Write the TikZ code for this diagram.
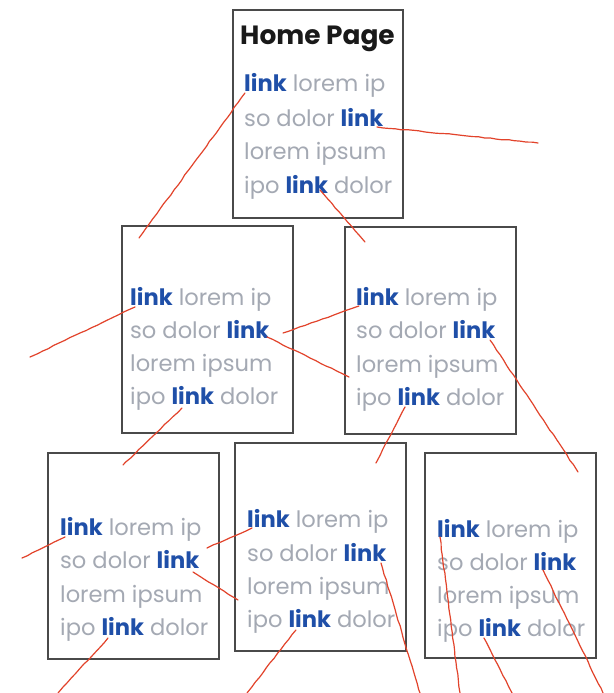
\documentclass[tikz,border=0pt]{standalone}
\usepackage{fontspec}
\setmainfont{Poppins}
\usetikzlibrary{decorations.pathmorphing}
\definecolor{lnk}{HTML}{1F4FA8}
\definecolor{lor}{HTML}{A4A9B3}
\definecolor{con}{HTML}{E2432B}
\definecolor{frm}{HTML}{4A4A4A}
\newcommand\lk{\textcolor{lnk}{\bfseries link}}
\begin{document}
\begin{tikzpicture}[x=1pt,y=-1pt,
  page/.style={draw=frm, line width=1.7pt, fill=white, inner sep=0pt, anchor=north west},
  txt/.style={anchor=base west, inner sep=0pt, font=\fontsize{22.6}{22.6}\selectfont, text=lor},
  ttl/.style={anchor=base west, inner sep=0pt, font=\fontsize{26.4}{26.4}\selectfont\bfseries, text=black!90},
  wire/.style={draw=con, line width=1.2pt, line cap=round,
    decorate, decoration={random steps, segment length=6pt, amplitude=0.4pt}}]
\useasboundingbox[fill=white] (0,0) rectangle (613,693);
% pages
\node[page, minimum width=170pt, minimum height=208pt] (home) at (232,9) {};
\node[page, minimum width=171pt, minimum height=207pt] (ml) at (121,225) {};
\node[page, minimum width=171pt, minimum height=207pt] (mr) at (344,226) {};
\node[page, minimum width=171pt, minimum height=206pt] (bl) at (47,452) {};
\node[page, minimum width=171pt, minimum height=208pt] (bm) at (234,442) {};
\node[page, minimum width=171pt, minimum height=205pt] (br) at (424,452) {};
% home text
\node[ttl] (ht) at (240,45) {Home Page};
\node[txt] (h1) at (244,92) {\lk\ lorem ip};
\node[txt] (h2) at (244,126) {so dolor \lk};
\node[txt] (h3) at (244,159) {lorem ipsum};
\node[txt] (h4) at (244,193) {ipo \lk\ dolor};
% middle left
\node[txt] (a1) at (130,305) {\lk\ lorem ip};
\node[txt] (a2) at (130,338) {so dolor \lk};
\node[txt] (a3) at (130,371) {lorem ipsum};
\node[txt] (a4) at (130,404) {ipo \lk\ dolor};
% middle right
\node[txt] (b1) at (356,305) {\lk\ lorem ip};
\node[txt] (b2) at (356,338) {so dolor \lk};
\node[txt] (b3) at (356,372) {lorem ipsum};
\node[txt] (b4) at (356,405) {ipo \lk\ dolor};
% bottom left
\node[txt] (c1) at (60,535) {\lk\ lorem ip};
\node[txt] (c2) at (60,568) {so dolor \lk};
\node[txt] (c3) at (60,602) {lorem ipsum};
\node[txt] (c4) at (60,635) {ipo \lk\ dolor};
% bottom middle
\node[txt] (d1) at (247,527) {\lk\ lorem ip};
\node[txt] (d2) at (247,561) {so dolor \lk};
\node[txt] (d3) at (247,594) {lorem ipsum};
\node[txt] (d4) at (247,627) {ipo \lk\ dolor};
% bottom right
\node[txt] (e1) at (437,537) {\lk\ lorem ip};
\node[txt] (e2) at (437,570) {so dolor \lk};
\node[txt] (e3) at (437,603) {lorem ipsum};
\node[txt] (e4) at (437,636) {ipo \lk\ dolor};
% connector end points
\coordinate (p1a) at (245,93);  \coordinate (p1b) at (139,238);
\coordinate (p2a) at (377,127); \coordinate (p2b) at (538,143);
\coordinate (p3a) at (320,190); \coordinate (p3b) at (365,242);
\coordinate (p4a) at (135,307); \coordinate (p4b) at (30,357);
\coordinate (p5a) at (283,333); \coordinate (p5b) at (359,306);
\coordinate (p6a) at (267,337); \coordinate (p6b) at (349,377);
\coordinate (p7a) at (182,408); \coordinate (p7b) at (123,465);
\coordinate (p8a) at (490,340); \coordinate (p8b) at (578,472);
\coordinate (p9a) at (405,407); \coordinate (p9b) at (376,463);
\coordinate (q1a) at (65,537);  \coordinate (q1b) at (22,558);
\coordinate (q2a) at (193,572); \coordinate (q2b) at (238,600);
\coordinate (q3a) at (252,528); \coordinate (q3b) at (207,548);
\coordinate (q4a) at (108,638); \coordinate (q4b) at (58,693);
\coordinate (q5a) at (381,563); \coordinate (q5b) at (420,693);
\coordinate (q6a) at (296,630); \coordinate (q6b) at (247,693);
\coordinate (q7a) at (440,537); \coordinate (q7b) at (460,693);
\coordinate (q8a) at (543,570); \coordinate (q8b) at (603,693);
\coordinate (q9a) at (484,638); \coordinate (q9b) at (512,693);
% connectors
\foreach \n in {p1,p2,p3,p4,p5,p6,p7,p8,p9,q1,q2,q3,q4,q5,q6,q7,q8,q9}
  \draw[wire] (\n a) -- (\n b);
\end{tikzpicture}
\end{document}
